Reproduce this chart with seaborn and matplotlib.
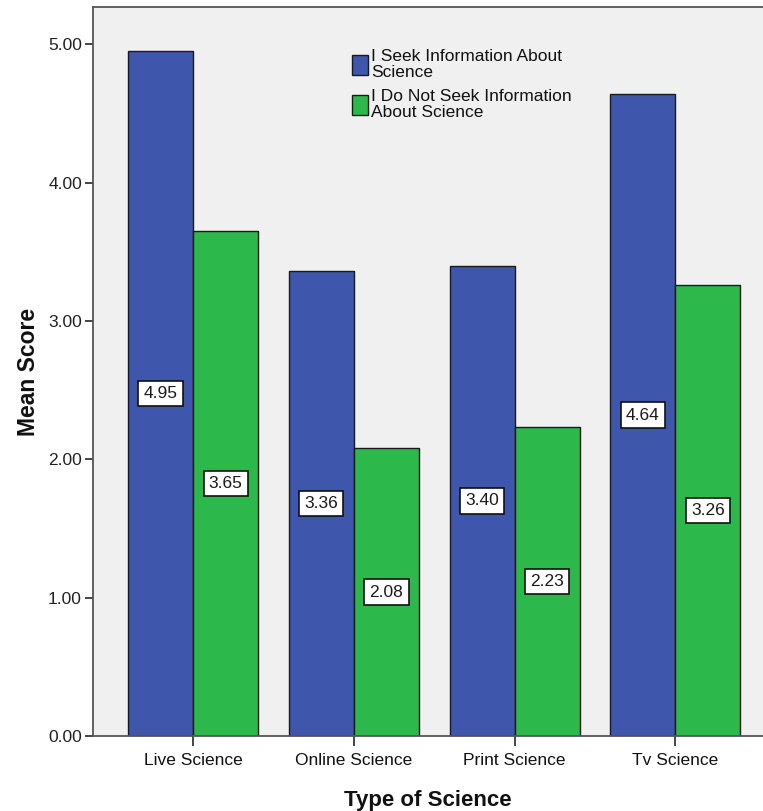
import numpy as np
import pandas as pd
import seaborn as sns
from matplotlib import pyplot as plt

# data
categories = ['Live Science', 'Online Science', 'Print Science', 'Tv Science']
seek = [4.95, 3.36, 3.40, 4.64]
not_seek = [3.65, 2.08, 2.23, 3.26]
groups = ['I Seek Information About\nScience', 'I Do Not Seek Information\nAbout Science']

df = pd.DataFrame({
    'Type of Science': categories * 2,
    'Mean Score': seek + not_seek,
    'group': [groups[0]] * len(categories) + [groups[1]] * len(categories),
})

palette = {groups[0]: '#3e56ab', groups[1]: '#2db84b'}

sns.set_style('white')
plt.rcParams['font.family'] = ['Arial', 'Liberation Sans', 'DejaVu Sans']

fig = plt.figure(figsize=(7.63, 8.11), dpi=100, facecolor='white')
ax = fig.add_axes([0.122, 0.0925, 0.878, 0.899])
ax.set_facecolor('#f0f0f0')

sns.barplot(data=df, x='Type of Science', y='Mean Score', hue='group',
            palette=palette, width=0.81, gap=0, saturation=1,
            edgecolor='#1a1a1a', linewidth=1.0, ax=ax)

# value labels at the middle of each bar
for cont in ax.containers:
    for rect in cont:
        h = rect.get_height()
        ax.text(rect.get_x() + rect.get_width() / 2, h / 2, '{:.2f}'.format(h),
                ha='center', va='center', fontsize=12.5, color='#1a1a1a',
                bbox=dict(boxstyle='square,pad=0.3', facecolor='white',
                          edgecolor='#111111', linewidth=1.2))

ax.set_ylim(0, 5.27)
ax.set_xlim(-0.623, 3.545)
ax.set_yticks([0, 1, 2, 3, 4, 5])
ax.set_yticklabels(['{:.2f}'.format(v) for v in range(6)], fontsize=12.5, color='#222222')
ax.tick_params(axis='x', labelsize=12.5, labelcolor='#111111', length=7, width=1.2,
               direction='out', bottom=True, pad=5)
ax.tick_params(axis='y', length=6, width=1.2, direction='out', left=True, pad=2)
ax.set_ylabel('Mean Score', fontsize=16.5, fontweight='bold', labelpad=6, color='#111111')
ax.set_xlabel('Type of Science', fontsize=16, fontweight='bold', labelpad=16, color='#111111')

for side in ['left', 'top', 'bottom']:
    ax.spines[side].set_visible(True)
    ax.spines[side].set_color('#555555')
    ax.spines[side].set_linewidth(1.3)
ax.spines['right'].set_visible(False)

leg = ax.legend(loc='upper left', bbox_to_anchor=(0.376, 0.952), frameon=False,
                fontsize=12.5, handlelength=0.95, handleheight=1.4, handletextpad=0.15,
                labelspacing=0.5, borderaxespad=0)
for t in leg.get_texts():
    t.set_linespacing(1.1)
    t.set_color('#111111')

fig.savefig('out.png', dpi=100, facecolor='white')
